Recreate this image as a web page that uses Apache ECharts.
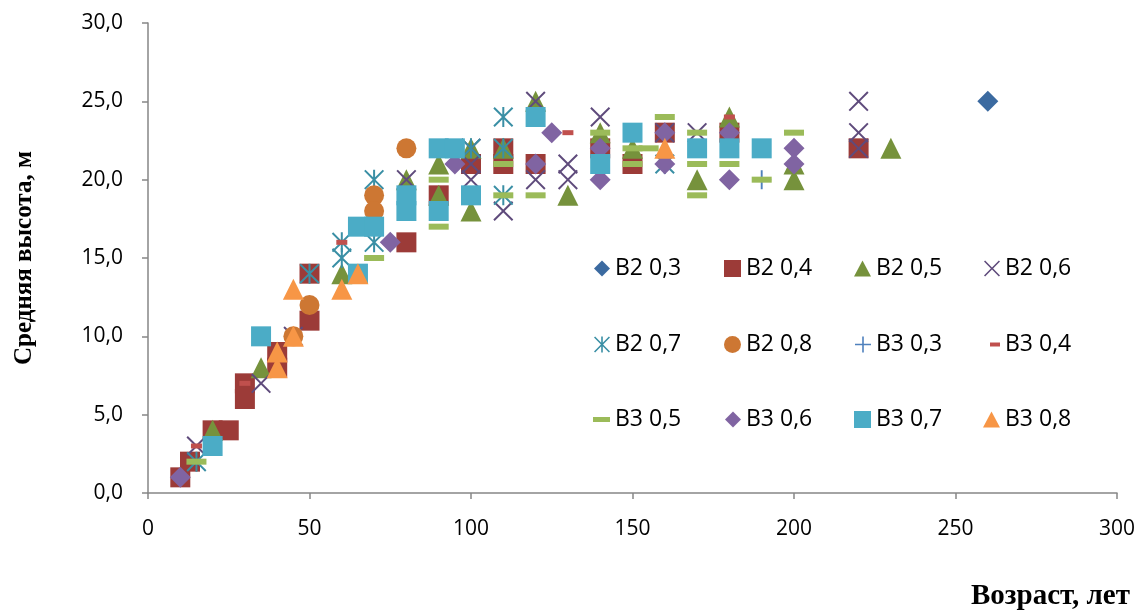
<!DOCTYPE html>
<html>
<head>
<meta charset="utf-8">
<script src="https://cdn.jsdelivr.net/npm/echarts@6/dist/echarts.min.js"></script>
<style>
  html, body { margin: 0; padding: 0; background: #fff; }
  #chart { width: 1144px; height: 614px; }
</style>
</head>
<body>
<div id="chart"></div>
<script>
// Средняя высота древостоя по возрасту: ряды В2 и В3 при полнотах 0,3–0,8
// Each point: [возраст, лет ; средняя высота, м]
const seriesNames = ['B2 0,3', 'B2 0,4', 'B2 0,5', 'B2 0,6', 'B2 0,7', 'B2 0,8',
                     'B3 0,3', 'B3 0,4', 'B3 0,5', 'B3 0,6', 'B3 0,7', 'B3 0,8'];

const b2_03 = [[260, 25]];
const b2_04 = [[10, 1], [13, 2], [20, 4], [25, 4], [30, 7], [30, 6], [40, 9], [40, 8], [50, 11], [50, 14],
               [80, 16], [90, 19], [100, 21], [110, 22], [110, 21], [120, 21], [140, 22], [150, 21],
               [160, 23], [180, 23], [220, 22]];
const b2_05 = [[20, 4], [35, 8], [60, 14], [80, 20], [90, 21], [90, 19], [100, 22], [100, 18], [110, 22],
               [120, 25], [130, 19], [140, 23], [150, 22], [170, 20], [180, 24], [200, 21], [200, 20], [230, 22]];
const b2_06 = [[15, 3], [35, 7], [45, 10], [80, 20], [100, 22], [100, 21], [100, 20], [110, 18], [120, 25],
               [120, 20], [130, 21], [130, 20], [140, 24], [160, 23], [170, 23], [220, 25], [220, 23], [220, 22]];
const b2_07 = [[15, 2], [50, 14], [60, 16], [60, 15], [70, 20], [70, 16], [100, 22], [110, 24], [110, 22],
               [110, 19], [160, 21]];
const b2_08 = [[45, 10], [50, 12], [70, 19], [70, 18], [80, 22]];
const b3_03 = [[190, 20]];
const b3_04 = [[15, 3], [30, 7], [60, 16], [130, 23], [180, 24]];
const b3_05 = [[15, 2], [70, 15], [90, 20], [90, 17], [110, 21], [110, 19], [120, 19], [140, 23], [150, 22],
               [155, 22], [150, 21], [160, 24], [170, 23], [170, 21], [170, 19], [180, 21], [190, 20], [200, 23]];
const b3_06 = [[10, 1], [75, 16], [95, 21], [120, 21], [125, 23], [140, 22], [140, 20], [160, 23], [160, 21],
               [180, 23], [180, 20], [200, 22], [200, 21]];
const b3_07 = [[20, 3], [35, 10], [65, 17], [70, 17], [65, 14], [80, 19], [80, 18], [90, 22], [95, 22],
               [90, 18], [100, 19], [120, 24], [140, 21], [150, 23], [170, 22], [180, 22], [190, 22]];
const b3_08 = [[40, 9], [40, 8], [45, 10], [45, 13], [60, 13], [65, 14], [160, 22]];

const xTicks = [0, 50, 100, 150, 200, 250, 300];
const yTicks = [0, 5, 10, 15, 20, 25, 30];

// Marker shapes
const CROSS = 'path://M0.7,0L5,4.3L9.3,0L10,0.7L5.7,5L10,9.3L9.3,10L5,5.7L0.7,10L0,9.3L4.3,5L0,0.7Z';
const STAR = CROSS + 'M4.5,0H5.5V10H4.5Z';
const PLUS = 'path://M4.5,0H5.5V4.5H10V5.5H5.5V10H4.5V5.5H0V4.5H4.5Z';

const styles = [
  { data: b2_03, color: '#3B6AA0', symbol: 'diamond',  size: 21,       lg: [16, 16] },
  { data: b2_04, color: '#9C3B38', symbol: 'rect',     size: 20,       lg: [17, 17] },
  { data: b2_05, color: '#76923C', symbol: 'triangle', size: 21,       lg: [17, 16] },
  { data: b2_06, color: '#5F4B7C', symbol: CROSS,      size: 20,       lg: [16, 16] },
  { data: b2_07, color: '#3A8FA5', symbol: STAR,       size: 20,       lg: [16, 16] },
  { data: b2_08, color: '#CD7733', symbol: 'circle',   size: 20,       lg: [17, 17] },
  { data: b3_03, color: '#4F81BD', symbol: PLUS,       size: 19,       lg: [16, 16] },
  { data: b3_04, color: '#C0504D', symbol: 'rect',     size: [11, 5],  lg: [10, 4] },
  { data: b3_05, color: '#9BBB59', symbol: 'rect',     size: [20, 6],  lg: [17, 5] },
  { data: b3_06, color: '#8064A2', symbol: 'diamond',  size: 21,       lg: [16, 16] },
  { data: b3_07, color: '#4BACC6', symbol: 'rect',     size: 20,       lg: [17, 17] },
  { data: b3_08, color: '#F79646', symbol: 'triangle', size: 21,       lg: [17, 16] }
];

// legend grid: 4 columns x 3 rows; text starts at these x positions
const legendTextX = [615, 746, 876, 1005];
const legendRowY = [271, 347, 422];

const series = styles.map((s, i) => ({
  name: seriesNames[i],
  type: 'scatter',
  data: s.data,
  symbol: s.symbol,
  symbolSize: s.size,
  itemStyle: { color: s.color, opacity: 1 },
  emphasis: { disabled: true },
  z: 2 + i
}));

const legends = styles.map((s, i) => {
  const col = i % 4, row = Math.floor(i / 4);
  return {
    left: legendTextX[col] - 5 - s.lg[0],
    top: legendRowY[row] - 14,
    padding: 0,
    selectedMode: false,
    itemWidth: s.lg[0],
    itemHeight: s.lg[1],
    textStyle: { color: '#000', fontSize: 23, fontFamily: 'Open Sans' },
    data: [{ name: seriesNames[i], icon: s.symbol }]
  };
});

const fmt = v => v.toFixed(1).replace('.', ',');

const chart = echarts.init(document.getElementById('chart'), null, { renderer: 'canvas' });
chart.setOption({
  animation: false,
  backgroundColor: '#fff',
  grid: { left: 148, right: 27, top: 23, bottom: 121 },
  legend: legends,
  xAxis: {
    type: 'value',
    min: xTicks[0], max: xTicks[xTicks.length - 1], interval: 50,
    name: 'Возраст, лет',
    nameLocation: 'end',
    nameGap: -146,
    nameTextStyle: {
      fontFamily: 'Liberation Serif', fontWeight: 'bold', fontSize: 29, color: '#000',
      align: 'left', verticalAlign: 'top', padding: [89, 0, 0, 0]
    },
    axisLine: { show: true, lineStyle: { color: '#868686', width: 1.5 } },
    axisTick: { show: true, length: 6, lineStyle: { color: '#868686', width: 1.5 } },
    axisLabel: { color: '#000', fontSize: 21, fontFamily: 'Open Sans', margin: 26 },
    splitLine: { show: false }
  },
  yAxis: {
    type: 'value',
    min: yTicks[0], max: yTicks[yTicks.length - 1], interval: 5,
    name: 'Средняя высота, м',
    nameLocation: 'middle',
    nameGap: 111,
    nameTextStyle: { fontFamily: 'Liberation Serif', fontWeight: 'bold', fontSize: 25, color: '#000' },
    axisLine: { show: true, lineStyle: { color: '#868686', width: 1.5 } },
    axisTick: { show: true, length: 6, lineStyle: { color: '#868686', width: 1.5 } },
    axisLabel: { color: '#000', fontSize: 21, fontFamily: 'Open Sans', margin: 25, formatter: fmt },
    splitLine: { show: false }
  },
  series: series
});
</script>
</body>
</html>
